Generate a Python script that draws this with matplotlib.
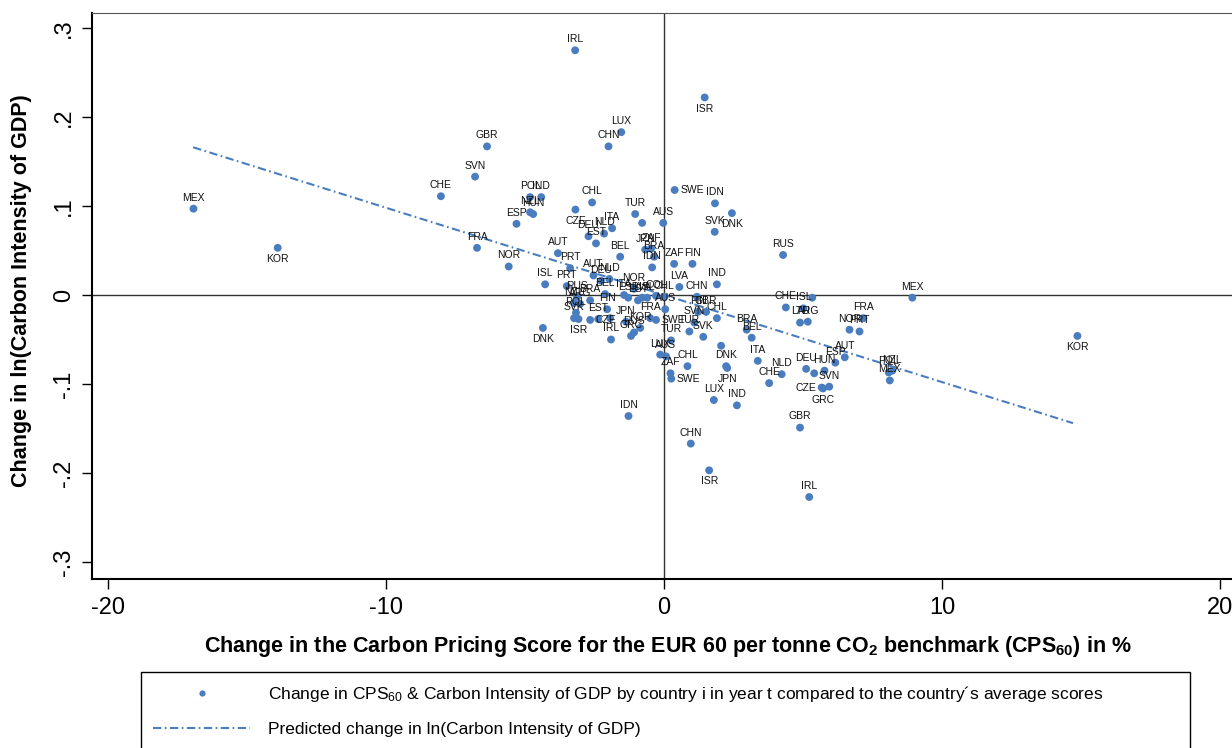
import matplotlib
matplotlib.use("Agg")
import matplotlib.pyplot as plt
from matplotlib import font_manager
from matplotlib.lines import Line2D
from matplotlib.ticker import FuncFormatter

names = {f.name for f in font_manager.fontManager.ttflist}
narrow = "Liberation Sans Narrow" if "Liberation Sans Narrow" in names else "Liberation Sans"
plt.rcParams["font.family"] = [narrow, "DejaVu Sans"]
plt.rcParams["mathtext.fontset"] = "custom"
plt.rcParams["mathtext.rm"] = narrow
plt.rcParams["mathtext.bf"] = narrow + ":bold"
plt.rcParams["mathtext.default"] = "regular"
plt.rcParams["lines.scale_dashes"] = False
plt.rcParams["axes.unicode_minus"] = False

# country labels, change in CPS60 (%), change in ln(carbon intensity)
countries = [
    "MEX", "KOR", "CHE", "SVN", "GBR", "FRA", "IRL", "ISR", "LUX", "CHN",
    "SWE", "IDN", "DNK", "SVK", "RUS", "CHL", "POL", "IND", "NZL", "HUN",
    "ESP", "CZE", "DEU", "NLD", "ITA", "EST", "TUR", "", "AUS", "JPN",
    "ZAF", "BRA", "IDN", "BEL", "AUT", "PRT", "NOR", "ISL", "ZAF", "FIN",
    "LVA", "CHN", "IND", "CHE", "FIN", "GBR", "CHL", "SVN", "TUR", "SVK",
    "BRA", "BEL", "", "ITA", "NLD", "CHE", "DNK", "JPN", "LUX", "IND",
    "CHL", "ZAF", "SWE", "LUX", "AUS", "TUR", "IDN", "CHN", "GBR", "ISR",
    "IRL", "ISL", "", "LTU", "ARG", "FRA", "NOR", "PRT", "AUT", "ESP",
    "HUN", "DEU", "", "SVN", "CZE", "GRC", "MEX", "POL", "NZL", "MEX",
    "KOR", "DNK", "IRL", "ISR", "PRT", "AUT", "DEU", "NLD", "BEL", "NOR",
    "ITA", "ESP", "EST", "LVA", "ISL", "COL", "CHL", "RUS", "BRA", "NZL",
    "ARG", "POL", "SVK", "EST", "FIN", "CZE", "FRA", "SWE", "JPN", "KOR",
    "RUS", "GRC", "AUS", "",
]
cps_change = [
    -16.93, -13.90, -8.03, -6.80, -6.37, -6.73, -3.20, 1.46, -1.54, -2.00,
    0.38, 1.83, 2.44, 1.82, 4.28, -2.59, -4.82, -4.42, -4.82, -4.71,
    -5.31, -3.19, -2.72, -2.16, -1.87, -2.45, -1.04, -0.79, -0.03, -0.68,
    -0.47, -0.36, -0.43, -1.58, -3.82, -3.38, -5.59, -4.28, 0.36, 1.02,
    0.55, 1.18, 1.90, 4.38, 1.22, 1.51, 1.90, 1.09, 0.91, 1.41,
    2.97, 3.15, 2.05, 3.37, 4.23, 3.78, 2.23, 2.27, 1.79, 2.62,
    0.84, 0.23, 0.26, -0.14, 0.07, 0.25, -1.28, 0.96, 4.89, 1.62,
    5.22, 5.01, 5.33, 4.89, 5.17, 7.17, 6.67, 7.03, 6.50, 6.16,
    5.77, 5.11, 5.40, 5.94, 5.67, 5.72, 8.93, 8.08, 8.21, 8.12,
    14.87, -4.36, -1.91, -3.08, -3.50, -2.54, -2.27, -1.97, -2.12, -1.08,
    -1.44, -1.29, -0.94, -0.79, -0.61, -0.29, 0.00, -3.13, -2.66, -3.24,
    -3.02, -3.17, -3.24, -2.37, -2.05, -2.66, -0.50, -0.29, -1.37, -0.86,
    -1.08, -1.19, 0.04, -1.94,
]
ci_change = [
    0.097, 0.053, 0.111, 0.133, 0.167, 0.053, 0.275, 0.222, 0.183, 0.167,
    0.118, 0.103, 0.092, 0.071, 0.045, 0.104, 0.110, 0.110, 0.093, 0.091,
    0.080, 0.096, 0.066, 0.069, 0.075, 0.058, 0.091, 0.081, 0.081, 0.051,
    0.052, 0.043, 0.031, 0.043, 0.047, 0.030, 0.032, 0.012, 0.035, 0.035,
    0.009, -0.002, 0.012, -0.014, -0.019, -0.019, -0.026, -0.031, -0.041, -0.047,
    -0.039, -0.048, -0.057, -0.074, -0.089, -0.099, -0.080, -0.082, -0.118, -0.124,
    -0.080, -0.088, -0.094, -0.067, -0.069, -0.051, -0.136, -0.167, -0.149, -0.197,
    -0.227, -0.015, -0.003, -0.031, -0.030, -0.026, -0.039, -0.041, -0.070, -0.076,
    -0.085, -0.083, -0.088, -0.103, -0.104, -0.105, -0.003, -0.087, -0.085, -0.096,
    -0.046, -0.037, -0.050, -0.027, 0.010, 0.022, 0.016, 0.018, 0.001, 0.007,
    0.000, -0.003, -0.006, -0.003, -0.003, -0.001, -0.002, -0.002, -0.006, -0.009,
    -0.010, -0.020, -0.026, -0.027, -0.016, -0.028, -0.026, -0.028, -0.030, -0.037,
    -0.042, -0.046, -0.016, -0.026,
]
# marker label position (clock style, 12 = above)
label_pos = [12] * len(countries)
for i in (1, 7, 12, 21, 57, 69, 85, 90, 91, 93):
    label_pos[i] = 6
for i in (10, 62, 115, 117):
    label_pos[i] = 3
for i in (84,):
    label_pos[i] = 9

# predicted values (fitted line end points)
pred_x = [-16.94, 14.71]
pred_y = [0.166, -0.144]

blue = "#4a7dbf"
dash = (6, 2.5, 1.2, 2.5)

fig = plt.figure(figsize=(12.32, 7.48), dpi=100)
ax = fig.add_axes([92.3 / 1232, 1 - 578.7 / 748, 1 - 92.3 / 1232, (578.7 - 13) / 748])
ax.set_xlim(-20.57, 20.43)
ax.set_ylim(-0.3188, 0.3169)

ax.axhline(0, color="#333333", lw=1.0, zorder=1)
ax.axvline(0, color="#333333", lw=1.0, zorder=1)
ax.plot(pred_x, pred_y, color=blue, lw=1.5, dashes=dash, zorder=2)
ax.scatter(cps_change, ci_change, s=32, color=blue, edgecolors="none", zorder=3)

offsets = {12: ((0, 8), "center"), 6: ((0, -8), "center"), 3: ((4, 0), "left"), 9: ((-4, 0), "right")}
for lab, x, y, p in zip(countries, cps_change, ci_change, label_pos):
    if not lab:
        continue
    off, ha = offsets[p]
    ax.annotate(lab, (x, y), xytext=off, textcoords="offset points",
                ha=ha, va="center", fontsize=7.5, color="#111111", zorder=4)

ax.spines["right"].set_visible(False)
ax.spines["left"].set_linewidth(1.5)
ax.spines["bottom"].set_linewidth(1.5)
ax.spines["top"].set_linewidth(0.8)
ax.spines["top"].set_color("#555555")

ax.set_xticks([-20, -10, 0, 10, 20])
ax.set_yticks([-0.3, -0.2, -0.1, 0, 0.1, 0.2, 0.3])
ax.yaxis.set_major_formatter(FuncFormatter(
    lambda v, _: "0" if abs(v) < 1e-9 else f"{v:.1f}".replace("0.", ".")))
ax.tick_params(axis="both", length=7.2, width=1, labelsize=17)
ax.tick_params(axis="x", pad=6)
ax.tick_params(axis="y", pad=5, labelrotation=90)
for lbl in ax.get_yticklabels():
    lbl.set_va("center")

ax.set_xlabel(r"Change in the Carbon Pricing Score for the EUR 60 per tonne CO$_\mathbf{2}$ "
              r"benchmark (CPS$_\mathbf{60}$) in %", fontsize=15.5, fontweight="bold", va="center")
ax.xaxis.set_label_coords(0.505, -0.1207)
ax.set_ylabel("Change in ln(Carbon Intensity of GDP)", fontsize=15.5, fontweight="bold", va="center")
ax.yaxis.set_label_coords(-0.0617, 0.510)

handles = [
    Line2D([], [], ls="none", marker="o", ms=4.5, color=blue, mec="none"),
    Line2D([], [], color=blue, lw=1.5, dashes=dash),
]
labels = [
    r"Change in CPS$_{60}$ & Carbon Intensity of GDP by country i in year t compared to the country´s average scores",
    "Predicted change in ln(Carbon Intensity of GDP)",
]
leg = ax.legend(handles, labels, loc="upper left",
                bbox_to_anchor=(141 / 1232, 1 - 672 / 748, (1190 - 141) / 1232, 0),
                bbox_transform=fig.transFigure, mode="expand", fontsize=12.5,
                frameon=True, fancybox=False, edgecolor="black", framealpha=1,
                borderpad=0.7, labelspacing=1.0, handlelength=5.6, handletextpad=1.0,
                borderaxespad=0, numpoints=1)
leg.get_frame().set_linewidth(1.0)

fig.savefig("out.png", dpi=100)
